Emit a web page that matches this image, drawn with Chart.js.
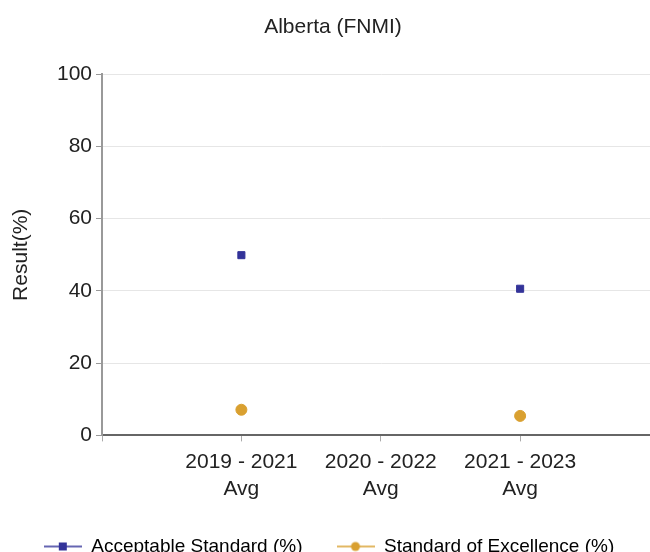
<!DOCTYPE html>
<html>
<head>
<meta charset="utf-8">
<script src="https://cdn.jsdelivr.net/npm/chart.js@4"></script>
<style>
    html, body { margin: 0; padding: 0; background: #fff; overflow: hidden; }
    #wrap { position: relative; width: 666px; height: 573px; }
</style>
</head>
<body>
<div id="wrap"><canvas id="resultChart"></canvas></div>
<script>
// 資料
const categories = [['2019 - 2021', 'Avg'], ['2020 - 2022', 'Avg'], ['2021 - 2023', 'Avg']];
const acceptableStd = [49.9, null, 40.6];
const excellenceStd = [7.1, null, 5.4];
const yTickValues = [0, 20, 40, 60, 80, 100];

const blue = '#333399';
const gold = '#D9A030';
const fontFamily = '"Liberation Sans", Arial, sans-serif';

// 圖例用的小圖（線 + 點）
function legendIcon(color, shape) {
    const c = document.createElement('canvas');
    c.width = 38;
    c.height = 12;
    const g = c.getContext('2d');
    g.strokeStyle = color;
    g.lineWidth = 1.5;
    g.beginPath();
    g.moveTo(0, 6);
    g.lineTo(38, 6);
    g.stroke();
    g.fillStyle = color;
    if (shape === 'rect') {
        g.fillRect(15, 2, 8, 8);
    } else {
        g.beginPath();
        g.arc(19, 6, 4.5, 0, Math.PI * 2);
        g.fill();
    }
    return c;
}

function toPoints(values) {
    return values.map((v, i) => ({ x: i + 1, y: v }));
}

// 圖例稍微往左上移
const legendShift = {
    id: 'legendShift',
    afterLayout: function(chart) {
        const lg = chart.legend;
        if (lg) {
            lg.left -= 4;
            lg.right -= 4;
            lg.top -= 7;
            lg.bottom -= 7;
        }
    }
};

Chart.defaults.font.family = fontFamily;
Chart.defaults.color = '#222';

const ctx = document.getElementById('resultChart').getContext('2d');
new Chart(ctx, {
    type: 'line',
    data: {
        datasets: [
            {
                label: 'Acceptable Standard (%)',
                data: toPoints(acceptableStd),
                borderColor: blue,
                backgroundColor: blue,
                pointStyle: 'rect',
                pointRadius: 5,
                pointHoverRadius: 5,
                showLine: false,
                legendIcon: legendIcon(blue, 'rect')
            },
            {
                label: 'Standard of Excellence (%)',
                data: toPoints(excellenceStd),
                borderColor: gold,
                backgroundColor: gold,
                pointStyle: 'circle',
                pointRadius: 5.5,
                pointHoverRadius: 5.5,
                showLine: false,
                legendIcon: legendIcon(gold, 'circle')
            }
        ]
    },
    plugins: [legendShift],
    options: {
        responsive: true,
        maintainAspectRatio: false,
        animation: false,
        events: [],
        layout: { padding: 0 },
        plugins: {
            title: {
                display: true,
                text: 'Alberta (FNMI)',
                color: '#222',
                font: { size: 21, weight: 'normal' },
                padding: { top: 15, bottom: 34 }
            },
            legend: {
                position: 'bottom',
                labels: {
                    usePointStyle: true,
                    pointStyleWidth: 38,
                    padding: 34,
                    color: '#222',
                    font: { size: 19 },
                    generateLabels: function(chart) {
                        return chart.data.datasets.map((ds, i) => ({
                            text: ds.label,
                            pointStyle: ds.legendIcon,
                            fillStyle: ds.backgroundColor,
                            strokeStyle: ds.borderColor,
                            lineWidth: 0,
                            hidden: false,
                            datasetIndex: i
                        }));
                    }
                }
            },
            tooltip: { enabled: false }
        },
        scales: {
            x: {
                type: 'linear',
                min: 0,
                max: 4,
                afterBuildTicks: function(scale) {
                    scale.ticks = [0, 1, 2, 3].map(v => ({ value: v }));
                },
                ticks: {
                    color: '#222',
                    padding: 7,
                    maxRotation: 0,
                    autoSkip: false,
                    font: { size: 21, lineHeight: 1.3 },
                    callback: function(value) {
                        return value === 0 ? '' : categories[value - 1];
                    }
                },
                grid: {
                    drawOnChartArea: false,
                    drawTicks: true,
                    tickLength: 6,
                    tickColor: '#aaa'
                },
                border: { color: '#666', width: 2 }
            },
            y: {
                min: 0,
                max: 100,
                afterBuildTicks: function(scale) {
                    scale.ticks = yTickValues.map(v => ({ value: v }));
                },
                afterFit: function(scale) {
                    scale.width = 102;
                },
                title: {
                    display: true,
                    text: 'Result(%)',
                    color: '#222',
                    font: { size: 21 },
                    padding: { top: 9, bottom: 4 }
                },
                ticks: {
                    color: '#222',
                    padding: 4,
                    font: { size: 21 }
                },
                grid: {
                    color: '#e6e6e6',
                    tickColor: '#999',
                    tickLength: 6
                },
                border: { color: '#999', width: 2 }
            }
        }
    }
});
</script>
</body>
</html>
